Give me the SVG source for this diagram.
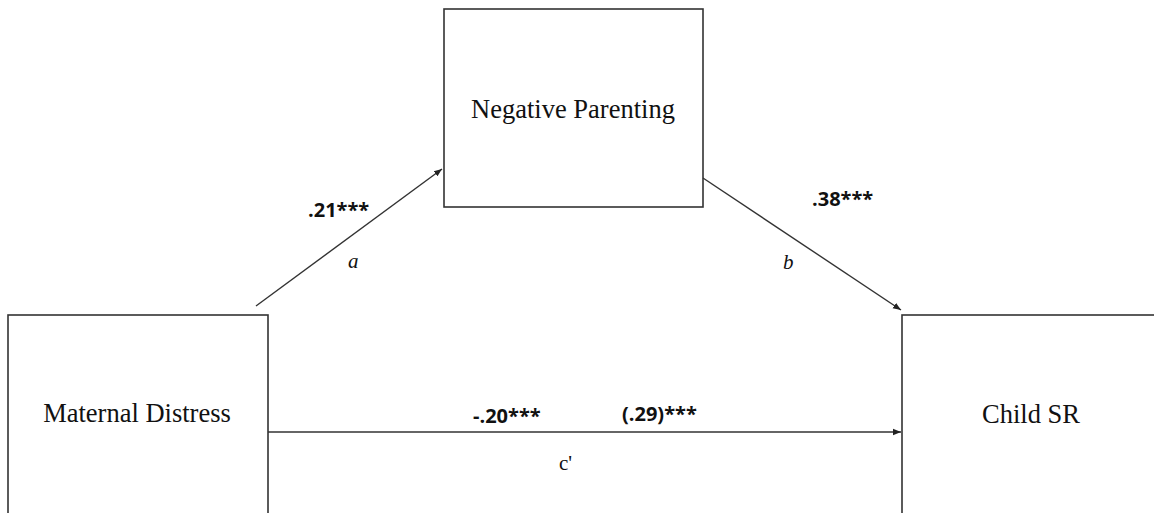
<svg xmlns="http://www.w3.org/2000/svg" width="1154" height="513" viewBox="0 0 1154 513">
<style>
.box{fill:#fff;stroke:#333;stroke-width:1.6}
.lbl{font-family:"Liberation Serif","Times New Roman",serif;font-size:26.5px;fill:#111}
.coef{font-family:"Open Sans","DejaVu Sans",sans-serif;font-weight:bold;font-size:20px;fill:#111}
.ital{font-family:"Liberation Serif","Times New Roman",serif;font-style:italic;font-size:21px;fill:#111}
.edge{stroke:#333;stroke-width:1.4;fill:none;marker-end:url(#ah)}
</style>
<defs>
<marker id="ah" viewBox="0 0 10 10" refX="10" refY="5" markerWidth="8" markerHeight="8" markerUnits="userSpaceOnUse" orient="auto">
<path d="M0,1 L10,5 L0,9 Z" fill="#222"/>
</marker>
</defs>
<rect width="1154" height="513" fill="#fff"/>
<g id="node-negative-parenting">
<rect class="box" x="444" y="9" width="259" height="198"/>
<text class="lbl" x="573" y="118" text-anchor="middle">Negative Parenting</text>
</g>
<g id="node-maternal-distress">
<rect class="box" x="8" y="315" width="260" height="220"/>
<text class="lbl" x="137" y="422" text-anchor="middle">Maternal Distress</text>
</g>
<g id="node-child-sr">
<rect class="box" x="902" y="315" width="270" height="220"/>
<text class="lbl" x="1031" y="423" text-anchor="middle">Child SR</text>
</g>
<g id="connectors">
<line class="edge" x1="256" y1="306" x2="442" y2="169"/>
<line class="edge" x1="703" y1="178" x2="901" y2="310"/>
<line class="edge" x1="268" y1="432" x2="901" y2="432"/>
</g>
<g id="labels">
<text class="coef" x="308" y="217">.21***</text>
<text class="ital" x="348" y="268">a</text>
<text class="coef" x="812" y="206">.38***</text>
<text class="ital" x="783" y="269">b</text>
<text class="coef" x="473" y="423">-.20***</text>
<text class="coef" x="622" y="421">(.29)***</text>
<text class="lbl" x="559" y="470" style="font-size:21px">c'</text>
</g>
</svg>
